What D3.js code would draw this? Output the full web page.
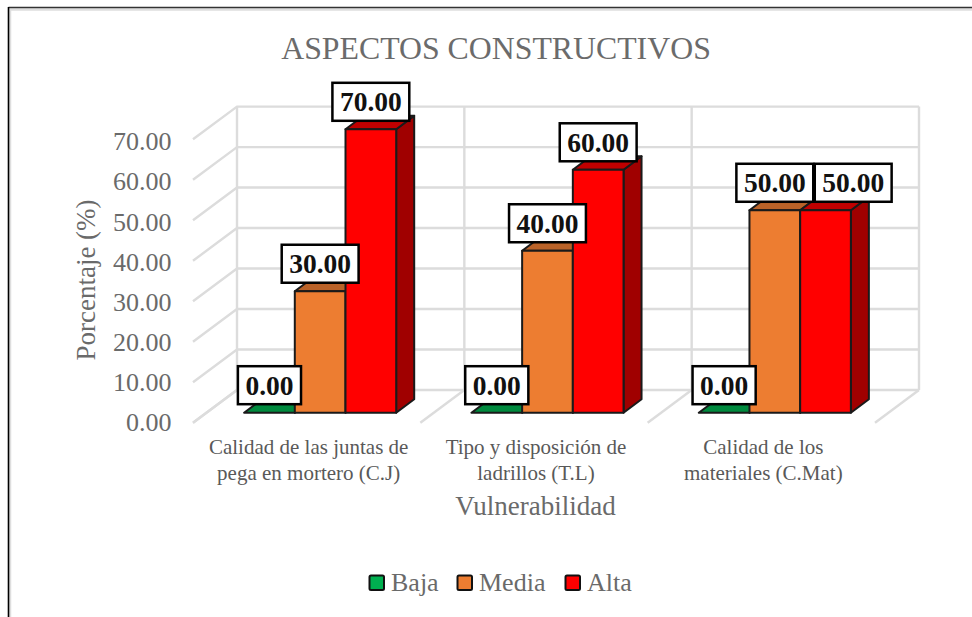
<!DOCTYPE html>
<html><head><meta charset="utf-8">
<script src="https://cdn.jsdelivr.net/npm/d3@7"></script>
<style>html,body{margin:0;padding:0;background:#fff}svg{display:block}text{font-family:"Liberation Serif",serif}</style>
</head><body><svg id="c" width="972" height="617"></svg>
<script>
const chartTitle = "ASPECTOS CONSTRUCTIVOS";
const categories = ["C.J", "T.L", "C.Mat"];
const categoryLines = [
  ["Calidad de las juntas de", "pega en mortero (C.J)"],
  ["Tipo y disposición de", "ladrillos (T.L)"],
  ["Calidad de los", "materiales (C.Mat)"]
];
const seriesNames = ["Baja", "Media", "Alta"];
const baja = [0, 0, 0];
const media = [30, 40, 50];
const alta = [70, 60, 50];
const seriesValues = [baja, media, alta];
const yTicks = [0, 10, 20, 30, 40, 50, 60, 70];
const faceColors = ["#00B050", "#ED7D31", "#FF0000"];
const topColors = ["#008A3E", "#BA6228", "#C00000"];
const sideColors = ["#007A35", "#A85520", "#A00000"];

const svg = d3.select("#c");
// frame
svg.append("path").attr("d","M10 640V9.5H972").attr("fill","none").attr("stroke","#dedede").attr("stroke-width",2.5);
svg.append("path").attr("d","M972 7.5H8.5").attr("fill","none").attr("stroke","#333").attr("stroke-width",1.5);
svg.append("path").attr("d","M8.5 640V7").attr("fill","none").attr("stroke","#000").attr("stroke-width",1.6);

// projection constants
const wallDX = 30.5, wallDY = -22.7;   // bar plane -> back wall
const floorDX = -13.5, floorDY = 10;   // bar plane -> front floor edge
const barDX = 18, barDY = -13.5;       // bar depth

const x0 = d3.scaleBand().domain(categories).range([206.5, 888.5]);
const x1 = d3.scaleBand().domain(seriesNames).range([37.6, 189.7]);
const y = d3.scaleLinear().domain([0, 70]).range([412.7, 129.3]);

const grid = svg.append("g").attr("fill","none").attr("stroke","#DCDCDC").attr("stroke-width",2.4);
const wallL = x0.range()[0] + wallDX, wallR = x0.range()[1] + wallDX;
const fl = wallDX - floorDX, fd = wallDY - floorDY;
yTicks.forEach(t => {
  const Y = y(t) + wallDY;
  grid.append("path").attr("d", `M${wallL-fl} ${Y-fd}L${wallL} ${Y}H${wallR}`);
});
[...categories.map(c => x0(c)), x0.range()[1]].forEach((v,i) => {
  const X = v + wallDX;
  grid.append("path").attr("d", `M${X} ${y(0)+wallDY}V${y(70)+wallDY}`);
  grid.append("path").attr("d", `M${X} ${y(0)+wallDY}L${X-fl} ${y(0)+wallDY-fd}`);
});

// y axis
const yAxis = d3.axisLeft(d3.scaleLinear().domain([0,70]).range([422.5, 141.5]))
  .tickValues(yTicks).tickSize(0).tickPadding(0).tickFormat(d => d.toFixed(2));
const ga = svg.append("g").attr("transform","translate(171.5,0)").call(yAxis);
ga.select(".domain").remove();
ga.selectAll("text").style("font-size","26px").style("font-family",'"Liberation Serif",serif').attr("fill","#6a6a6a");

// bars
const stroke = "#1a1a1a";
categories.forEach((c,ci) => {
  seriesNames.forEach((s,si) => {
    const v = seriesValues[si][ci];
    const L = x0(c) + x1(s), W = x1.bandwidth(), T = y(v), B = y(0);
    const g = svg.append("g").attr("stroke",stroke).attr("stroke-width",2).attr("stroke-linejoin","round");
    g.append("path").attr("fill",sideColors[si]).attr("d",`M${L+W} ${T}l${barDX} ${barDY}V${B+barDY}l${-barDX} ${-barDY}Z`);
    g.append("path").attr("fill",topColors[si]).attr("d",`M${L} ${T}l${barDX} ${barDY}h${W}l${-barDX} ${-barDY}Z`);
    if (v>0) g.append("rect").attr("x",L).attr("y",T).attr("width",W).attr("height",B-T).attr("fill",faceColors[si]);
  });
});

// value labels: boxes are nudged sideways when they would collide with the previous box
categories.forEach((c,ci) => {
  let prev = null;
  seriesNames.forEach((s,si) => {
    const v = seriesValues[si][ci];
    let cx = x0(c) + x1(s) + x1.bandwidth()/2;
    const cy = y(v) - 27.5;
    const g = svg.append("g");
    const r = g.append("rect").attr("fill","#fff").attr("stroke","#000").attr("stroke-width",2.5);
    const t = g.append("text").attr("dy","0.34em").attr("text-anchor","middle")
      .attr("font-size",27.5).attr("font-weight","bold").attr("fill","#111").text(v.toFixed(2));
    const w = t.node().getComputedTextLength() + 15;
    if (prev && prev.cy === cy && cx - w/2 < prev.right + 1.5) { cx = prev.right + 1.5 + w/2; }
    t.attr("x",cx).attr("y",cy);
    r.attr("x",cx-w/2).attr("y",cy-19).attr("width",w).attr("height",38);
    prev = {cy, right: cx + w/2};
  });
});

// titles
svg.append("text").attr("x",496).attr("y",59).attr("text-anchor","middle").attr("font-size",31.8).attr("fill","#6b6b6b").text(chartTitle);
svg.append("text").attr("transform","translate(95,280) rotate(-90)").attr("text-anchor","middle").attr("font-size",27).attr("fill","#6a6a6a").text("Porcentaje (%)");
svg.append("text").attr("x",535.5).attr("y",515).attr("text-anchor","middle").attr("font-size",27).attr("fill","#6a6a6a").text("Vulnerabilidad");

// category labels
categories.forEach((c,ci) => {
  const cx = x0(c) + x0.bandwidth()/2 - 11.5;
  categoryLines[ci].forEach((line,li) => {
    svg.append("text").attr("x",cx).attr("y",453.5+li*26.5).attr("text-anchor","middle").attr("font-size",21).attr("fill","#595959").text(line);
  });
});

// legend
const legendX = d3.scaleOrdinal().domain(seriesNames).range([369.5, 457.5, 565.5]);
seriesNames.forEach((s,si) => {
  svg.append("rect").attr("x",legendX(s)).attr("y",575.5).attr("width",14.5).attr("height",14.5).attr("rx",1.5)
    .attr("fill",faceColors[si]).attr("stroke","#111").attr("stroke-width",2);
  svg.append("text").attr("x",legendX(s)+21.5).attr("y",591).attr("font-size",26).attr("fill","#6a6a6a").text(s);
});
</script></body></html>
